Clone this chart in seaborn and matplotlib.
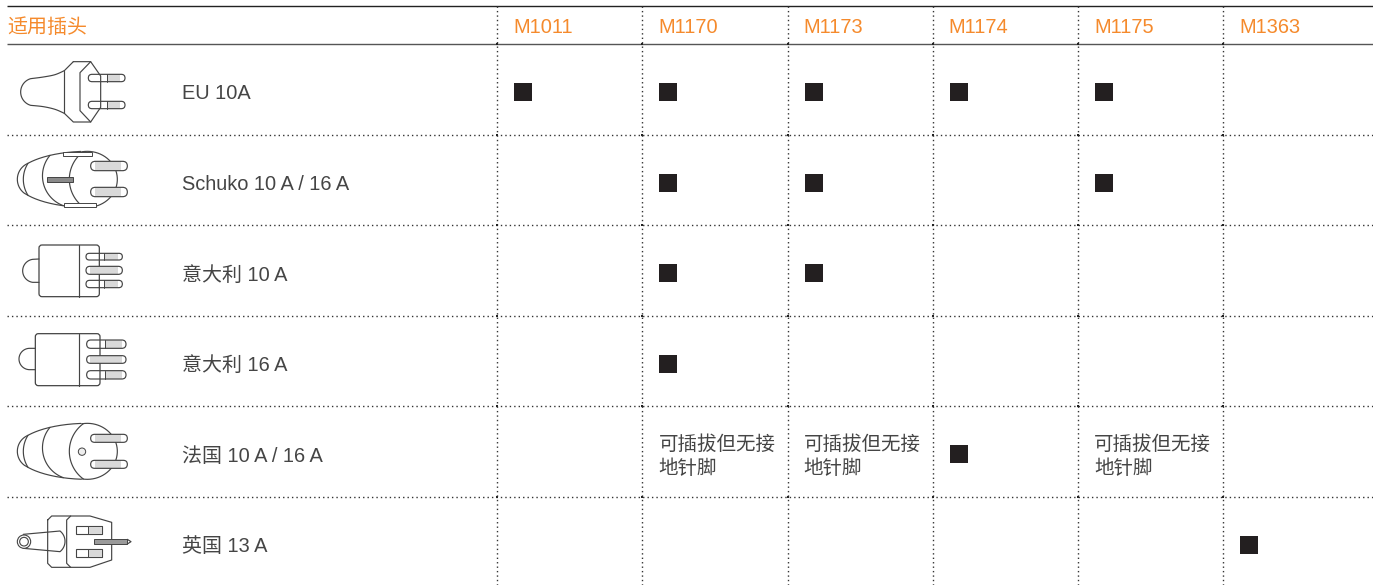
""" Tabela de plugues compatíveis por modelo """

import matplotlib
matplotlib.use('Agg')
import matplotlib.pyplot as plt
from matplotlib.patches import Circle, FancyBboxPatch, Rectangle
import numpy as np
import pandas as pd
import seaborn as sns

sns.set_style('white')
plt.rcParams['font.family'] = ['Liberation Sans', 'Noto Sans CJK SC', 'DejaVu Sans']

titulo = '适用插头'
modelos = ['M1011', 'M1170', 'M1173', 'M1174', 'M1175', 'M1363']
plugues = ['EU 10A', 'Schuko 10 A / 16 A', '意大利 10 A', '意大利 16 A',
           '法国 10 A / 16 A', '英国 13 A']

# células marcadas: índice do plugue e do modelo
marca_plugue = [0, 0, 0, 0, 0, 1, 1, 1, 2, 2, 3, 4, 5]
marca_modelo = [0, 1, 2, 3, 4, 1, 2, 4, 1, 2, 1, 3, 5]

nota = '可插拔但无接\n地针脚'
nota_plugue = [4, 4, 4]
nota_modelo = [1, 2, 4]

LARGURA, ALTURA = 1373, 585
X0, COL = 497.3, 145.2
Y0, LIN = 44, 90.6
LARANJA = '#f58a2c'
TEXTO = '#454545'
TRACO = '#444444'
CINZA = '#d9d9d9'
FONTE = 14.4

fig = plt.figure(figsize=(LARGURA / 100, ALTURA / 100), dpi=100)

# eixo da tabela: uma unidade por coluna e por linha
ax = fig.add_axes([0, 0, 1, 1])
marcas = pd.DataFrame({
    'coluna': np.array(marca_modelo) + 0.178,
    'linha': np.array(marca_plugue) + 0.53,
})
sns.scatterplot(data=marcas, x='coluna', y='linha', marker='s', s=168,
                color='#231f20', linewidth=0, ax=ax, legend=False, zorder=3)
ax.set_xlim(-X0 / COL, (LARGURA - X0) / COL)
ax.set_ylim((ALTURA - Y0) / LIN, -Y0 / LIN)
ax.axis('off')

esq = (7 - X0) / COL
dir_ = (LARGURA - X0) / COL
topo = (6 - Y0) / LIN
pontilhado = (0, (1, 2.2))

ax.hlines(topo, esq, dir_, color='#222222', lw=1.0)
ax.hlines(0, esq, dir_, color='#555555', lw=1.0)
ax.hlines(np.arange(1, len(plugues)), esq, dir_, color='#333333', lw=1.0,
          linestyles=[pontilhado])
ax.vlines(np.arange(len(modelos)), topo, (ALTURA - Y0) / LIN, color='#333333',
          lw=1.0, linestyles=[pontilhado])

# pontinhos escuros nos cruzamentos
cx, cy = np.meshgrid(np.arange(len(modelos)), np.arange(len(plugues)))
ax.scatter(cx.ravel(), cy.ravel(), marker='s', s=3, color='#222222', linewidth=0, zorder=2)

# textos
ax.text(esq, -0.178, titulo, color=LARANJA, fontsize=FONTE, va='center', fontweight='medium')
for i, modelo in enumerate(modelos):
    ax.text(i + 0.11, -0.178, modelo, color=LARANJA, fontsize=FONTE, va='center')
for i, plugue in enumerate(plugues):
    ax.text((182 - X0) / COL, i + 0.55, plugue, color=TEXTO, fontsize=FONTE, va='center')
for p, m in zip(nota_plugue, nota_modelo):
    ax.text(m + 0.11, p + 0.555, nota, color=TEXTO, fontsize=14, va='center',
            linespacing=1.35)

# eixo em pixels para os desenhos dos plugues
px = fig.add_axes([0, 0, 1, 1])
px.set_xlim(0, LARGURA)
px.set_ylim(ALTURA, 0)
px.axis('off')
px.patch.set_alpha(0)


def curva(pontos, n=12):
    """ Catmull-Rom simples passando pelos pontos. """
    p = np.array(pontos, dtype=float)
    p = np.vstack([p[0], p, p[-1]])
    t = np.linspace(0, 1, n)[:, None]
    saida = []
    for a, b, c, d in zip(p[:-3], p[1:-2], p[2:-1], p[3:]):
        saida.append(0.5 * (2 * b + (c - a) * t + (2 * a - 5 * b + 4 * c - d) * t ** 2
                            + (3 * b - a - 3 * c + d) * t ** 3))
    return np.vstack(saida)


def arco(a, b, c, n=40):
    """ Arco de círculo que passa por três pontos. """
    a, b, c = [np.array(v, dtype=float) for v in (a, b, c)]
    m = 2 * np.array([b - a, c - a])
    v = np.array([b @ b - a @ a, c @ c - a @ a])
    o = np.linalg.solve(m, v)
    r = np.linalg.norm(a - o)
    t0 = np.arctan2(*(a - o)[::-1])
    t1 = np.arctan2(*(b - o)[::-1])
    t2 = np.arctan2(*(c - o)[::-1])
    # escolhe o sentido que passa por b
    d1 = (t1 - t0) % (2 * np.pi)
    d2 = (t2 - t0) % (2 * np.pi)
    if d1 > d2:
        d2 -= 2 * np.pi
    t = t0 + np.linspace(0, d2, n)
    return np.column_stack([o[0] + r * np.cos(t), o[1] + r * np.sin(t)])


def elipse(cx_, cy_, rx, ry, g0, g1, n=40):
    t = np.radians(np.linspace(g0, g1, n))
    return np.column_stack([cx_ + rx * np.cos(t), cy_ - ry * np.sin(t)])


def linha(pontos, dy=0, suave=False, lw=0.85):
    p = curva(pontos) if suave else np.array(pontos, dtype=float)
    px.plot(p[:, 0] / 3, (p[:, 1] + dy) / 3, color=TRACO, lw=lw, zorder=4)


def pino(x0, x1, y0, y1, g0, g1, dy=0):
    """ Pino arredondado, com a parte cinza entre g0 e g1. """
    x0, x1, g0, g1 = x0 / 3, x1 / 3, g0 / 3, g1 / 3
    y0, y1 = (y0 + dy) / 3, (y1 + dy) / 3
    r = (y1 - y0) / 2
    px.add_patch(FancyBboxPatch((x0, y0), x1 - x0, y1 - y0,
                                boxstyle=f'round,pad=0,rounding_size={r}', fc='white',
                                ec='none', zorder=3))
    px.add_patch(Rectangle((g0 + r * (g0 == x0), y0), g1 - g0 - r * (g0 == x0), y1 - y0,
                           fc=CINZA, ec='none', zorder=4))
    px.add_patch(FancyBboxPatch((x0, y0), x1 - x0, y1 - y0,
                                boxstyle=f'round,pad=0,rounding_size={r}', fc='none',
                                ec=TRACO, lw=0.85, zorder=5))
    if g0 != x0:
        px.plot([g0, g0], [y0, y1], color=TRACO, lw=0.7, zorder=5)


def corpo(x0, x1, y0, y1, dy):
    px.add_patch(FancyBboxPatch((x0 / 3, (y0 + dy) / 3), (x1 - x0) / 3, (y1 - y0) / 3,
                                boxstyle='round,pad=0,rounding_size=3', fc='none',
                                ec=TRACO, lw=0.9, zorder=4))


def redondo(cy_, dy=0):
    """ Contorno dos plugues redondos (Schuko e França). """
    linha(np.vstack([elipse(262, cy_, 90, 84, 100, -100),
                     elipse(262, cy_, 217, 84, 265, 215),
                     arco((84, cy_ + 48), (52, cy_), (84, cy_ - 48)),
                     elipse(262, cy_, 217, 84, 145, 95)]), dy=dy)
    linha(arco((84, cy_ - 48), (70, cy_), (84, cy_ + 48)), dy=dy)
    linha(arco((150, cy_ - 72), (128, cy_), (190, cy_ + 79)), dy=dy)
    linha(arco((250, cy_ - 83), (208, cy_), (250, cy_ + 83)), dy=dy)


# EU
linha([(220, 185), (193, 212)])
linha(np.vstack([curva([(193, 212), (165, 224), (130, 231), (92, 236)]),
                 arco((92, 236), (62, 275), (92, 316)),
                 curva([(92, 316), (130, 320), (165, 328), (193, 340)])]))
linha([(193, 340), (220, 366), (272, 366), (302, 322), (302, 228), (272, 185), (220, 185)])
linha([(193, 212), (193, 340)])
linha([(272, 185), (240, 218), (240, 332), (272, 366)])
pino(265, 375, 223, 245, 320, 360)
pino(265, 375, 304, 326, 320, 360)

# Schuko
redondo(538)
px.add_patch(Rectangle((142 / 3, 532 / 3), 78 / 3, 14 / 3, fc='#8a8a8a', ec=TRACO,
                       lw=0.7, zorder=4))
px.add_patch(Rectangle((190 / 3, 455 / 3), 85 / 3, 12 / 3, fc='white', ec=TRACO, lw=0.7, zorder=4))
px.add_patch(Rectangle((192 / 3, 610 / 3), 96 / 3, 12 / 3, fc='white', ec=TRACO, lw=0.7, zorder=4))
pino(272, 382, 484, 512, 272, 362)
pino(272, 382, 562, 590, 272, 362)

# Itália 10 A
dy = 225 * 3
corpo(117, 298, 60, 215, dy)
linha([(237, 60), (237, 215)], dy=dy)
linha(np.vstack([[(117, 102)], arco((98, 103), (68, 138), (98, 172)), [(117, 172)]]), dy=dy)
pino(258, 367, 85, 105, 312, 355, dy)
pino(258, 367, 124, 148, 258, 355, dy)
pino(258, 367, 166, 188, 312, 355, dy)

# Itália 16 A
corpo(106, 300, 326, 482, dy)
linha([(238, 326), (238, 482)], dy=dy)
linha(np.vstack([[(106, 370)], arco((88, 370), (57, 402), (88, 434)), [(106, 434)]]), dy=dy)
pino(260, 378, 345, 370, 316, 365, dy)
pino(260, 378, 392, 415, 260, 365, dy)
pino(260, 378, 437, 462, 316, 365, dy)

# França
dy = 405 * 3
redondo(139, dy)
px.add_patch(Circle((246 / 3, (140 + dy) / 3), 11 / 3, fc='#eeeeee', ec=TRACO, lw=0.7, zorder=4))
pino(272, 382, 88, 112, 272, 362, dy)
pino(272, 382, 166, 190, 272, 362, dy)

# Reino Unido
linha([(143, 345), (155, 333), (270, 333), (335, 352), (335, 465), (270, 487), (155, 487),
       (143, 475), (143, 345)], dy=dy)
linha([(212, 333), (200, 345), (200, 475), (212, 487)], dy=dy)
px.add_patch(Rectangle((70 / 3, (388 + dy) / 3), 112 / 3, 50 / 3, fc='white', ec='none', zorder=3))
linha(np.vstack([[(70, 388)], arco((180, 378), (195, 410), (180, 440)), [(70, 430)]]), dy=dy)
px.add_patch(Circle((72 / 3, (410 + dy) / 3), 20 / 3, fc='white', ec=TRACO, lw=0.8, zorder=4))
px.add_patch(Circle((72 / 3, (410 + dy) / 3), 13 / 3, fc='white', ec=TRACO, lw=0.8, zorder=4))
px.add_patch(Rectangle((228 / 3, (364 + dy) / 3), 77 / 3, 24 / 3, fc='white', ec=TRACO, lw=0.8, zorder=4))
px.add_patch(Rectangle((228 / 3, (431 + dy) / 3), 77 / 3, 26 / 3, fc='white', ec=TRACO, lw=0.8, zorder=4))
px.add_patch(Rectangle((265 / 3, (364 + dy) / 3), 40 / 3, 24 / 3, fc=CINZA, ec=TRACO, lw=0.7, zorder=4))
px.add_patch(Rectangle((265 / 3, (431 + dy) / 3), 40 / 3, 26 / 3, fc=CINZA, ec=TRACO, lw=0.7, zorder=4))
px.add_patch(Rectangle((282 / 3, (403 + dy) / 3), 100 / 3, 14 / 3, fc='#9a9a9a', ec=TRACO, lw=0.7, zorder=4))
linha([(382, 403), (393, 410), (382, 417)], dy=dy)

fig.savefig('out.png', dpi=100)
